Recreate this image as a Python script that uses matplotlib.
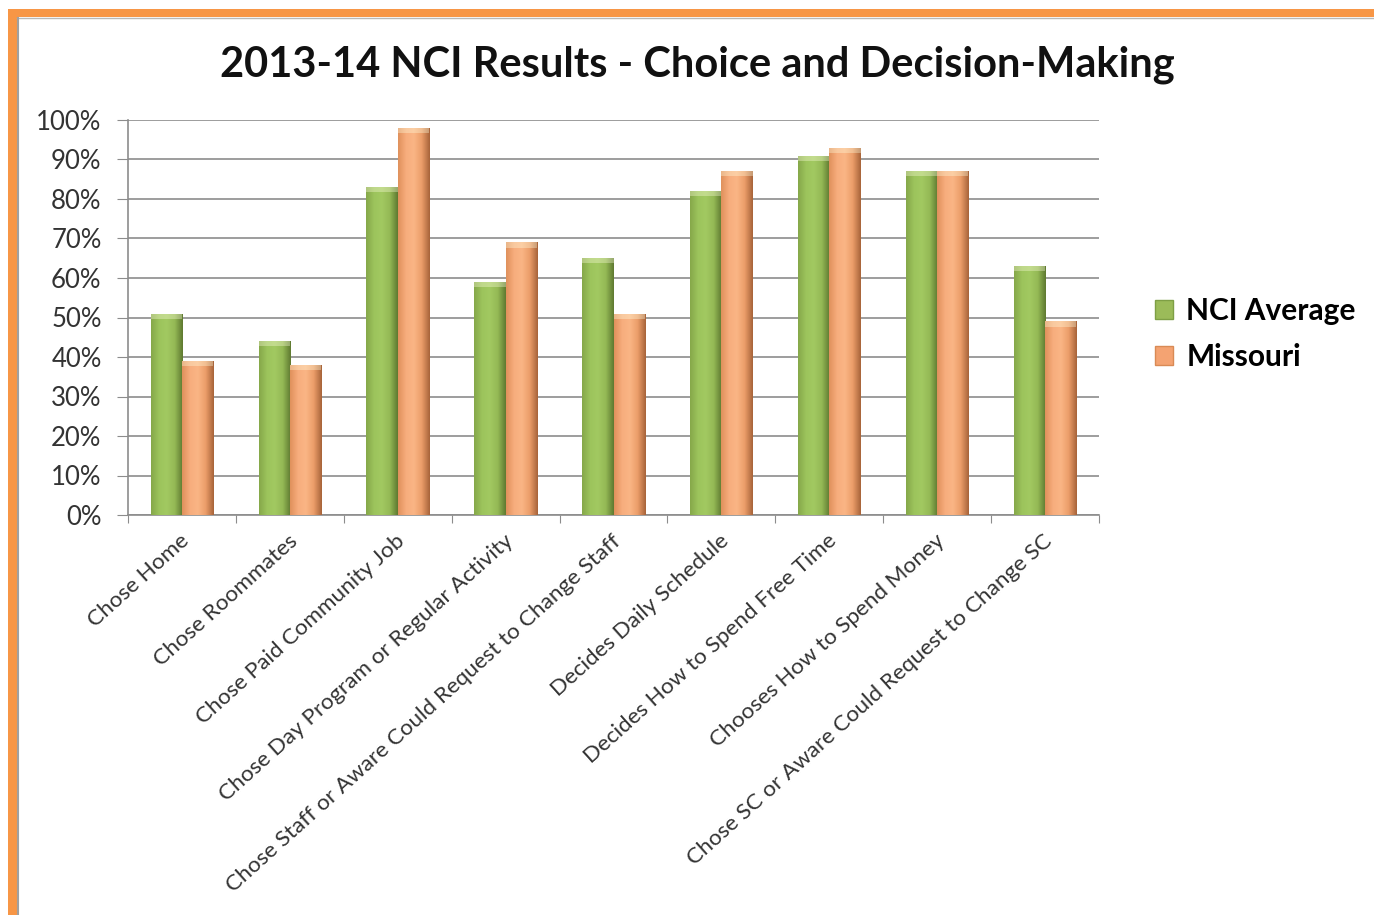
import matplotlib
matplotlib.use("Agg")
import matplotlib.pyplot as plt
import numpy as np
from matplotlib.patches import Rectangle
from matplotlib.lines import Line2D
from matplotlib.colors import LinearSegmentedColormap

categories = ["Chose Home", "Chose Roommates", "Chose Paid Community Job",
              "Chose Day Program or Regular Activity",
              "Chose Staff or Aware Could Request to Change Staff",
              "Decides Daily Schedule", "Decides How to Spend Free Time",
              "Chooses How to Spend Money",
              "Chose SC or Aware Could Request to Change SC"]
nci_average = [51, 44, 83, 59, 65, 82, 91, 87, 63]
missouri = [39, 38, 98, 69, 51, 87, 93, 87, 49]
series_names = ["NCI Average", "Missouri"]
yticks = [0, 10, 20, 30, 40, 50, 60, 70, 80, 90, 100]

plt.rcParams['font.family'] = ['Lato', 'DejaVu Sans']

W, H = 1374, 915
fig = plt.figure(figsize=(W / 100, H / 100), dpi=100)
fig.patch.set_facecolor("white")

# orange frame
fig.patches.append(Rectangle((8 / W, 1 - 17 / H), 1 - 8 / W, 8 / H, transform=fig.transFigure,
                             facecolor="#F79646", edgecolor="none", zorder=0))
fig.patches.append(Rectangle((8 / W, 0), 9 / W, 1 - 9 / H, transform=fig.transFigure,
                             facecolor="#F79646", edgecolor="none", zorder=0))
fig.lines.append(Line2D([17 / W, 1], [1 - 18 / H, 1 - 18 / H], transform=fig.transFigure,
                        color="#b8b8b8", lw=1))
fig.lines.append(Line2D([18 / W, 18 / W], [0, 1 - 18 / H], transform=fig.transFigure,
                        color="#a0a0a0", lw=1.5))

left, right, top, bottom = 128, 1099, 120, 515
ax = fig.add_axes([left / W, 1 - bottom / H, (right - left) / W, (bottom - top) / H])

n = len(categories)
x = np.arange(n)
bw = 0.29
green_cmap = LinearSegmentedColormap.from_list("g", ["#86a84a", "#9cc45c", "#a2c961", "#94b955", "#5f7a31"])
orange_cmap = LinearSegmentedColormap.from_list("o", ["#e0915c", "#f7ad7d", "#fab585", "#eb9d69", "#a8643a"])

bars1 = ax.bar(x - bw / 2, nci_average, bw, color="#9bbb59", zorder=2, edgecolor="none")
bars2 = ax.bar(x + bw / 2, missouri, bw, color="#f4a372", zorder=2, edgecolor="none")

grad = np.linspace(0, 1, 64).reshape(1, -1)
for bars, cmap in ((bars1, green_cmap), (bars2, orange_cmap)):
    for p in bars:
        x0, y0 = p.get_x(), p.get_y()
        w, h = p.get_width(), p.get_height()
        im = ax.imshow(grad, cmap=cmap, extent=[x0, x0 + w, y0, y0 + h], aspect="auto",
                       zorder=3, interpolation="bilinear")
        im.set_clip_path(p)
        ax.add_patch(Rectangle((x0, y0 + h - 1.3), w, 1.3, facecolor="#ffffe0", alpha=0.35,
                               edgecolor="none", zorder=4))

ax.set_xlim(-0.5, n - 0.5)
ax.set_ylim(0, 100)
ax.set_yticks(yticks)
ax.set_yticklabels([f"{v}%" for v in yticks], fontsize=18.5, color="#333333")
ax.yaxis.grid(True, color="#8c8c8c", lw=1.2, zorder=0)
ax.set_axisbelow(True)
for s in ("top", "right"):
    ax.spines[s].set_visible(False)
for s in ("left", "bottom"):
    ax.spines[s].set_color("#8c8c8c")
    ax.spines[s].set_linewidth(1.2)
ax.tick_params(axis="y", length=8, color="#8c8c8c", pad=11)

ax.set_xticks(np.arange(n + 1) - 0.5, minor=False)
ax.set_xticklabels([])
ax.tick_params(axis="x", length=6, color="#8c8c8c")
for i, c in enumerate(categories):
    ax.text(i - 0.02, -4, c, rotation=42, ha="right", va="top", rotation_mode="anchor",
            fontsize=16.2, color="#333333")

fig.text(697 / W, 1 - 65 / H, "2013-14 NCI Results - Choice and Decision-Making",
         ha="center", va="center", fontsize=30, fontweight="bold", color="#111111")

handles = [Rectangle((0, 0), 1, 1, facecolor="#9bbb59", edgecolor="#7e9f45"),
           Rectangle((0, 0), 1, 1, facecolor="#f4a372", edgecolor="#d98a55")]
leg = fig.legend(handles, series_names, loc="center left", bbox_to_anchor=(1128 / W, 1 - 334 / H),
                 frameon=False, prop={"weight": "bold", "size": 21.5}, handlelength=0.6,
                 handleheight=0.6, handletextpad=0.45, labelspacing=0.6)

fig.savefig("out.png", dpi=100)
